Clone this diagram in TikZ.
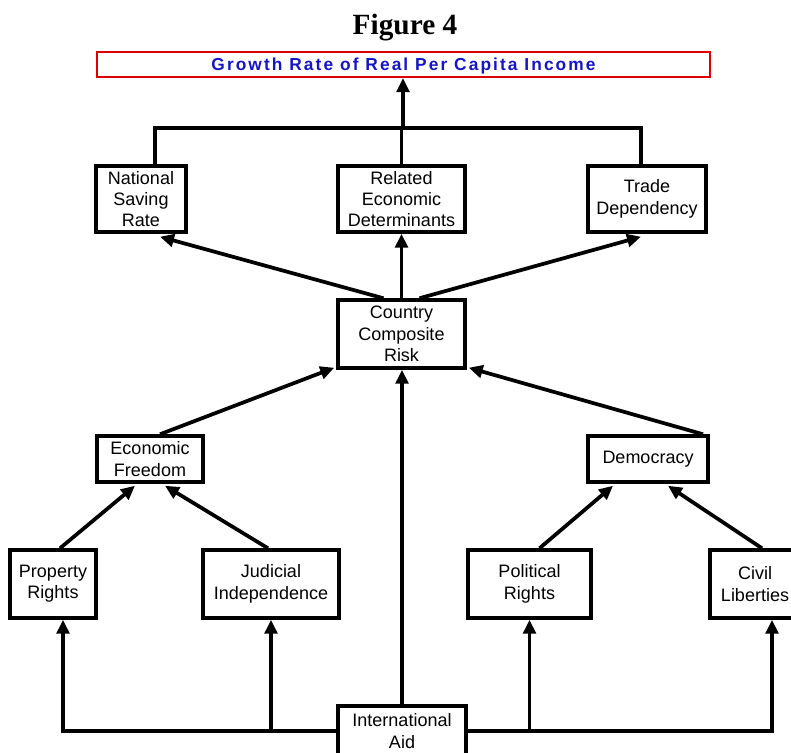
\documentclass[tikz,border=0pt]{standalone}
\usepackage{fontspec}
\setmainfont{Liberation Sans}
\newfontfamily\titlefont{Liberation Serif}
\newfontfamily\bannerfont[LetterSpace=12]{Liberation Sans}
\usetikzlibrary{arrows.meta,calc}
\definecolor{bannerred}{RGB}{220,0,0}
\definecolor{bannerblue}{RGB}{20,20,200}

\begin{document}
\begin{tikzpicture}[x=0.75pt,y=-0.75pt,line join=miter]
        %
        % `factor' is used for every black box.
        % `link' is used for the thick arrows, `wire' for the plain lines.
        \tikzstyle{factor} = [draw,line width=2.6pt,fill=white,inner sep=0pt,align=center,
                font=\fontsize{13.5}{16}\selectfont]
        \tikzstyle{link} = [line width=2.8pt,-{Triangle[length=10.5pt,width=9.5pt]}]
        \tikzstyle{wire} = [line width=2.8pt]
        \tikzstyle{banner} = [draw=bannerred,line width=1.6pt,inner sep=0pt,
                minimum width=459.75pt,minimum height=18.75pt,text depth=0pt,
                font=\bannerfont\bfseries\fontsize{13}{15}\selectfont,text=bannerblue]
        %
        \useasboundingbox (0,0) rectangle (791,752);
        %
        % Title
        \node at (405,28) (title) {\titlefont\bfseries\fontsize{22}{26}\selectfont Figure 4};
        \node[banner] at (403.5,64.5) (growth) {Growth Rate of Real Per Capita Income};
        %
        % Row 1
        \node[factor,minimum width=67.5pt,minimum height=49.5pt] at (141,199) (nsr) {National\\Saving\\Rate};
        \node[factor,minimum width=95.25pt,minimum height=49.5pt] at (401.5,199) (red) {Related\\Economic\\Determinants};
        \node[factor,minimum width=88.5pt,minimum height=49.5pt] at (647,199) (td) {Trade\\Dependency};
        %
        % Row 2
        \node[factor,minimum width=95.25pt,minimum height=51pt] at (401.5,334) (ccr) {Country\\Composite\\Risk};
        %
        % Row 3
        \node[factor,minimum width=79.5pt,minimum height=34.5pt] at (150,459) (ef) {Economic\\Freedom};
        \node[factor,minimum width=90pt,minimum height=34.5pt] at (648,459) (dem) {Democracy};
        %
        % Row 4
        \node[factor,minimum width=64.5pt,minimum height=51pt] at (53,584) (pr) {Property\\Rights};
        \node[factor,minimum width=102pt,minimum height=51pt] at (271,584) (ji) {Judicial\\Independence};
        \node[factor,minimum width=92.25pt,minimum height=51pt] at (529.5,584) (pol) {Political\\Rights};
        \node[factor,minimum width=67.5pt,minimum height=51pt] at (755,584) (cl) {Civil\\Liberties};
        %
        % Row 5
        \node[factor,minimum width=96pt,minimum height=37.5pt] at (402,731) (ia) {International\\Aid};
        %
        % Top bar
        \coordinate (bar) at (403,128);
        \draw[wire] ($(nsr.north)+(14,0)$) |- (bar) -| ($(td.north)+(-6,0)$);
        \draw[wire] (red.north) -- (red.north |- bar);
        \draw[link] (bar) -- (growth.south -| bar);
        %
        % Risk to row 1
        \draw[link] ($(ccr.north)+(-18,0)$) -- ($(nsr.south)+(19,3)$);
        \draw[link] (ccr.north) -- (red.south);
        \draw[link] ($(ccr.north)+(18,0)$) -- ($(td.south)+(-6,3)$);
        %
        % Row 3 to risk
        \draw[link] ($(ef.north)+(10,0)$) -- ($(ccr.south west)+(-2,-2)$);
        \draw[link] ($(dem.north)+(55,0)$) -- ($(ccr.south east)+(2,-2)$);
        %
        % Row 4 to row 3
        \draw[link] ($(pr.north)+(7,0)$) -- ($(ef.south)+(-15,2)$);
        \draw[link] ($(ji.north)+(-3,0)$) -- ($(ef.south)+(15,2)$);
        \draw[link] ($(pol.north)+(10,0)$) -- ($(dem.south)+(-35,2)$);
        \draw[link] ($(cl.north)+(7,0)$) -- ($(dem.south)+(20,2)$);
        %
        % Aid
        \draw[link] (ia.north) -- (ccr.south -| ia.north);
        \draw[link] (ia.west) -| ($(pr.south)+(10,0)$);
        \draw[link] (ia.west -| ji.south) -- (ji.south);
        \draw[link] (ia.east) -| ($(cl.south)+(17,0)$);
        \draw[link] (ia.east -| pol.south) -- (pol.south);
        %
\end{tikzpicture}
\end{document}
